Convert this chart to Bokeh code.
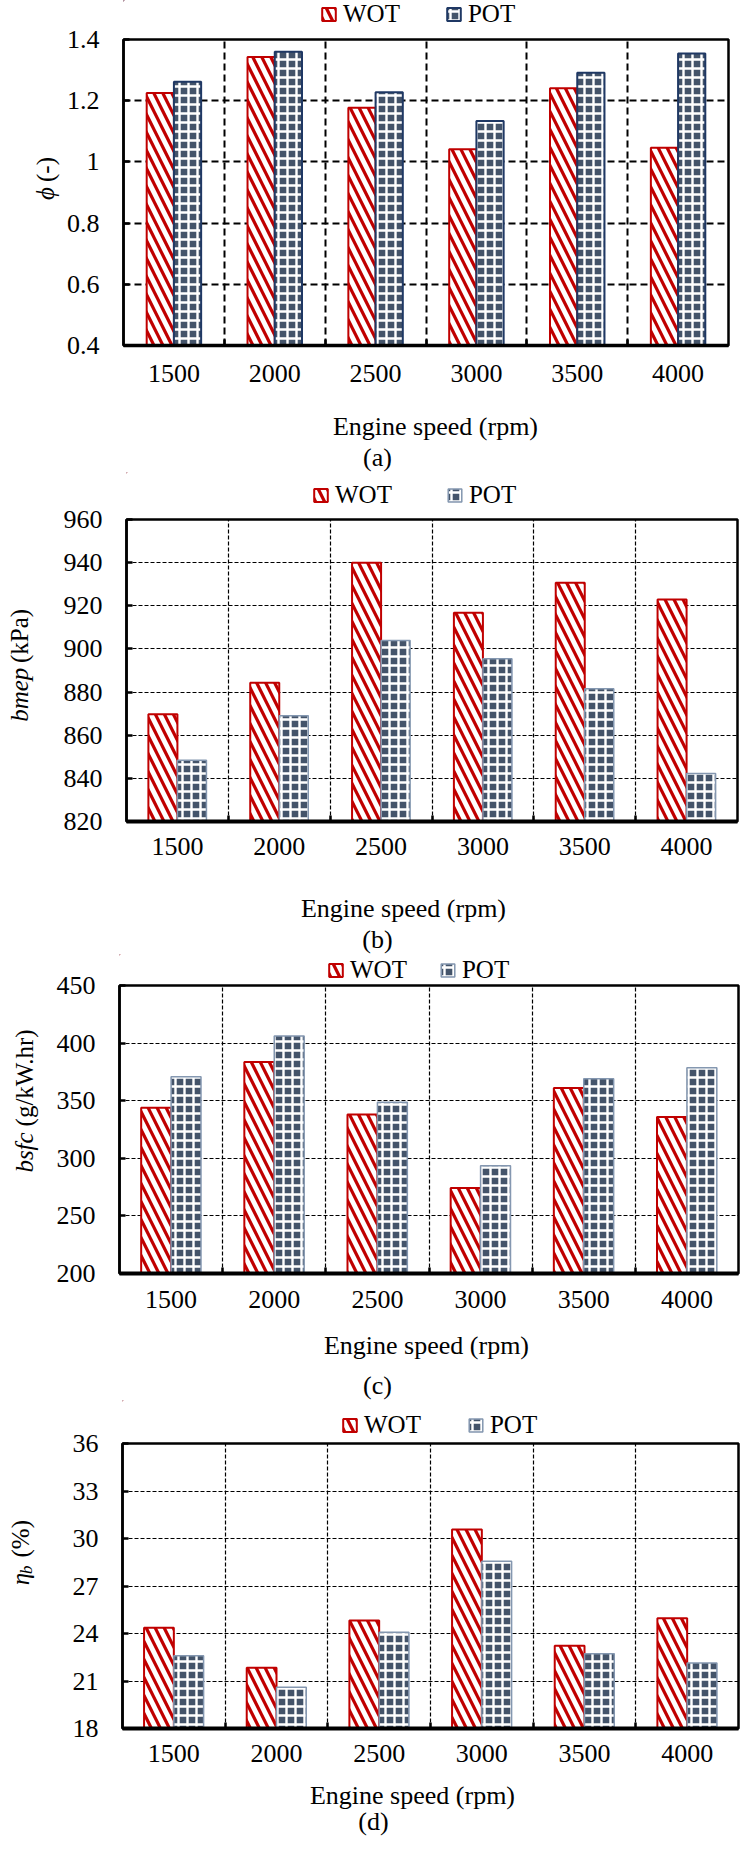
import numpy as np
from bokeh.plotting import figure
from bokeh.models import Range1d, FixedTicker, Legend, LegendItem, ColumnDataSource
from bokeh.layouts import column, row
from bokeh.transform import dodge
from bokeh.core.properties import value
from bokeh.embed import file_html
from bokeh.resources import INLINE

# ---------------- data ----------------
speeds = ["1500", "2000", "2500", "3000", "3500", "4000"]
series = ["WOT", "POT"]

phi_wot = [1.225, 1.343, 1.177, 1.041, 1.241, 1.046]
phi_pot = [1.262, 1.360, 1.228, 1.134, 1.291, 1.354]

bmep_wot = [869.7, 884.3, 940.0, 916.8, 930.7, 922.9]
bmep_pot = [848.4, 869.0, 903.9, 895.4, 881.5, 842.3]

bsfc_wot = [343.9, 383.5, 338.1, 274.2, 361.0, 335.8]
bsfc_pot = [370.8, 406.1, 348.6, 293.6, 369.0, 378.6]

eta_wot = [24.36, 21.84, 24.82, 30.57, 23.22, 24.97]
eta_pot = [22.59, 20.60, 24.08, 28.56, 22.72, 22.13]

phi_ticks = [0.4, 0.6, 0.8, 1.0, 1.2, 1.4]
phi_tick_labels = ["0.4", "0.6", "0.8", "1", "1.2", "1.4"]
bmep_ticks = [820, 840, 860, 880, 900, 920, 940, 960]
bsfc_ticks = [200, 250, 300, 350, 400, 450]
eta_ticks = [18, 21, 24, 27, 30, 33, 36]

x_title = "Engine speed (rpm)"
captions = ["(a)", "(b)", "(c)", "(d)"]

RED = "#C00000"
SLATE = "#44546A"
FONT = "Liberation Serif"
FS = "26px"
FS_Y = "25px"
FS_LEG = "25px"

W = 740
OX = 8
RIGHT = OX + W


def strip(width, height, x0, x1, ytop, ybot):
    s = figure(width=width, height=height, x_range=Range1d(x0, x1), y_range=Range1d(ybot, ytop),
               output_backend="svg", toolbar_location=None,
               x_axis_location=None, y_axis_location=None,
               min_border_left=0, min_border_right=0, min_border_top=0, min_border_bottom=0)
    s.outline_line_color = None
    s.background_fill_color = "white"
    s.border_fill_color = "white"
    s.grid.visible = False
    return s


def wot_style():
    return dict(fill_color="white", hatch_pattern="\\", hatch_color=RED,
                hatch_scale=18, hatch_weight=3.2, line_color=RED, line_width=2)


def pot_style(cfg):
    return dict(fill_color=SLATE, hatch_pattern="+", hatch_color="white",
                hatch_scale=9, hatch_weight=2.4, line_color=cfg["pot_line"],
                line_width=cfg["pot_lw"])


def panel(cfg):
    ct, H = cfg["canvas_top"], cfg["H"]
    L, R, T, B = cfg["frame"]
    Bm = cfg["Bm"]
    wt = cfg["wt"]
    y0, y1 = cfg["yr"]
    mt = 3
    ml = 3
    full_h = Bm - ct

    # ---- y-axis title strip ----
    ttl = strip(wt, full_h, OX, OX + wt, ct, Bm)
    for txt, style, size, start, off in cfg["ylab"]:
        ttl.text(x=[cfg["ylab_x"] + off], y=[start], text=[txt], angle=np.pi / 2,
                 text_align="left", text_baseline="middle",
                 text_font=value(FONT), text_font_size=value(size),
                 text_font_style=style, text_color="black")

    # ---- y tick-label figure (same y range as the chart) ----
    wa = L - ml - OX - wt
    ax = figure(width=wa, height=full_h, x_range=Range1d(0, 1), y_range=Range1d(y0, y1),
                output_backend="svg", toolbar_location=None, x_axis_location=None,
                min_border_left=wa - 1, min_border_right=0,
                min_border_top=T - ct, min_border_bottom=Bm - B)
    ax.outline_line_color = None
    ax.background_fill_color = "white"
    ax.border_fill_color = "white"
    ax.grid.visible = False
    ay = ax.yaxis[0]
    ay.ticker = FixedTicker(ticks=cfg["yticks"])
    if cfg.get("ylabels"):
        ay.major_label_overrides = {t: s for t, s in zip(cfg["yticks"], cfg["ylabels"])}
    ay.axis_line_color = None
    ay.major_tick_line_color = None
    ay.minor_tick_line_color = None
    ay.major_tick_in = 0
    ay.major_tick_out = 0
    ay.minor_tick_in = 0
    ay.minor_tick_out = 0
    ay.major_label_text_font = FONT
    ay.major_label_text_font_size = FS
    ay.major_label_text_color = "black"
    ay.major_label_standoff = 20

    # ---- top strip: legend ----
    wm = RIGHT - (L - ml)
    top = strip(wm, T - mt - ct, L - ml, RIGHT, ct, T - mt)
    d1 = top.vbar(x=[-1e6], top=[0], bottom=[0], width=1, **wot_style())
    d2 = top.vbar(x=[-1e6], top=[0], bottom=[0], width=1, **pot_style(cfg))
    lh = 29
    leg = Legend(items=[LegendItem(label=series[0], renderers=[d1]),
                        LegendItem(label=series[1], renderers=[d2])],
                 orientation="horizontal",
                 location=(cfg["leg_left"] - (L - ml), (T - mt) - cfg["leg_cy"] - lh / 2),
                 glyph_width=17, glyph_height=16, label_standoff=6,
                 spacing=cfg["leg_spacing"], padding=0, margin=0,
                 border_line_alpha=0, background_fill_alpha=0,
                 label_text_font=FONT, label_text_font_size=FS_LEG,
                 label_text_color="black")
    top.add_layout(leg)

    # ---- main chart ----
    p = figure(width=wm, height=Bm - (T - mt), x_range=Range1d(-0.5, 5.5),
               y_range=Range1d(y0, y1), output_backend="svg", toolbar_location=None,
               min_border_left=ml, min_border_right=RIGHT - R,
               min_border_top=mt, min_border_bottom=Bm - B)
    p.background_fill_color = "white"
    p.border_fill_color = "white"
    p.outline_line_color = "black"
    p.outline_line_width = cfg["outline_w"]

    src = ColumnDataSource(dict(x=list(range(len(speeds))), wot=cfg["wot"], pot=cfg["pot"]))
    bw = cfg["bw"]
    p.vbar(x=dodge("x", -bw / 2), top="wot", bottom=y0, width=bw, source=src, **wot_style())
    p.vbar(x=dodge("x", bw / 2), top="pot", bottom=y0, width=bw, source=src, **pot_style(cfg))

    p.xgrid.ticker = FixedTicker(ticks=[i + 0.5 for i in range(len(speeds) - 1)])
    for g in (p.xgrid, p.ygrid):
        g.grid_line_color = "black"
        g.grid_line_width = cfg["grid_w"]
        g.grid_line_dash = cfg["grid_dash"]

    xa = p.xaxis[0]
    xa.ticker = FixedTicker(ticks=list(range(len(speeds))),
                            minor_ticks=[i + 0.5 for i in range(len(speeds) - 1)])
    xa.major_label_overrides = {i: s for i, s in enumerate(speeds)}
    xa.major_tick_line_color = None
    xa.major_tick_in = 0
    xa.major_tick_out = 0
    xa.minor_tick_in = 6
    xa.minor_tick_out = 0
    xa.minor_tick_line_width = 2.5
    xa.minor_tick_line_color = "black"
    xa.axis_line_width = cfg["xaxis_w"]
    xa.axis_line_color = "black"
    xa.major_label_text_font = FONT
    xa.major_label_text_font_size = FS
    xa.major_label_text_color = "black"
    xa.major_label_standoff = cfg["xl_standoff"]

    ya = p.yaxis[0]
    ya.ticker = FixedTicker(ticks=cfg["yticks"])
    ya.major_label_overrides = {t: "" for t in cfg["yticks"]}
    ya.major_label_standoff = 0
    ya.major_tick_in = 6
    ya.major_tick_out = 0
    ya.major_tick_line_width = 2.5
    ya.minor_tick_line_color = None
    ya.minor_tick_in = 0
    ya.minor_tick_out = 0
    ya.axis_line_width = cfg["outline_w"]
    ya.axis_line_color = "black"

    # ---- bottom strip: x title + caption ----
    bot = strip(W, ct + H - Bm, OX, RIGHT, Bm, ct + H)
    (tx, ty), (cx, cy) = cfg["xtitle"], cfg["caption"]
    bot.text(x=[tx, cx], y=[ty, cy], text=[x_title, cfg["cap"]],
             text_align="center", text_baseline="middle",
             text_font=value(FONT), text_font_size=value(FS), text_color="black")

    return column(row(ttl, ax, column(top, p, spacing=0), spacing=0), bot, spacing=0)


cfgs = [
    dict(canvas_top=8, H=472, frame=(131, 736, 47, 353), Bm=416, wt=62, yr=(0.4, 1.4),
         yticks=phi_ticks, ylabels=phi_tick_labels, wot=phi_wot, pot=phi_pot, bw=0.27,
         pot_line="#1F3864", pot_lw=2, grid_w=2, grid_dash="7 4", outline_w=2.5, xaxis_w=3.5,
         xl_standoff=19, leg_left=325, leg_cy=21, leg_spacing=45,
         ylab_x=53, ylab=[("ϕ", "italic", FS_Y, 222, 0), ("(-)", "normal", FS_Y, 198, 0)],
         xtitle=(443, 434), caption=(385, 465), cap=captions[0]),
    dict(canvas_top=480, H=482, frame=(134, 745, 527, 829), Bm=886, wt=50, yr=(820, 960),
         yticks=bmep_ticks, ylabels=None, wot=bmep_wot, pot=bmep_pot, bw=0.285,
         pot_line="#8497B0", pot_lw=1.5, grid_w=1.2, grid_dash="4 2", outline_w=2.5, xaxis_w=4,
         xl_standoff=16, leg_left=317, leg_cy=502, leg_spacing=54,
         ylab_x=27, ylab=[("bmep", "italic", FS_Y, 752, 0), ("(kPa)", "normal", FS_Y, 673, 0)],
         xtitle=(411, 916), caption=(385, 947), cap=captions[1]),
    dict(canvas_top=962, H=446, frame=(127, 746, 993, 1281), Bm=1336, wt=50, yr=(200, 450),
         yticks=bsfc_ticks, ylabels=None, wot=bsfc_wot, pot=bsfc_pot, bw=0.29,
         pot_line="#8497B0", pot_lw=1.5, grid_w=1.2, grid_dash="4 2", outline_w=2.5, xaxis_w=4,
         xl_standoff=17, leg_left=332, leg_cy=977, leg_spacing=32,
         ylab_x=32, ylab=[("bsfc", "italic", FS_Y, 1205, 0), ("(g/kW.hr)", "normal", FS_Y, 1145, 0)],
         xtitle=(434, 1353), caption=(385, 1393), cap=captions[2]),
    dict(canvas_top=1408, H=436, frame=(130, 746, 1451, 1736), Bm=1788, wt=50, yr=(18, 36),
         yticks=eta_ticks, ylabels=None, wot=eta_wot, pot=eta_pot, bw=0.29,
         pot_line="#8497B0", pot_lw=1.5, grid_w=1.2, grid_dash="4 2", outline_w=2.5, xaxis_w=4,
         xl_standoff=16, leg_left=346, leg_cy=1432, leg_spacing=46,
         ylab_x=28, ylab=[("η", "italic", FS_Y, 1597, 0), ("b", "italic", "17px", 1582, 6),
                          ("(%)", "normal", FS_Y, 1560, 0)],
         xtitle=(420, 1803), caption=(381, 1829), cap=captions[3]),
]

panels = [panel(c) for c in cfgs]
layout = column(*panels, spacing=0)

open("out.html", "w").write(file_html(layout, INLINE))
